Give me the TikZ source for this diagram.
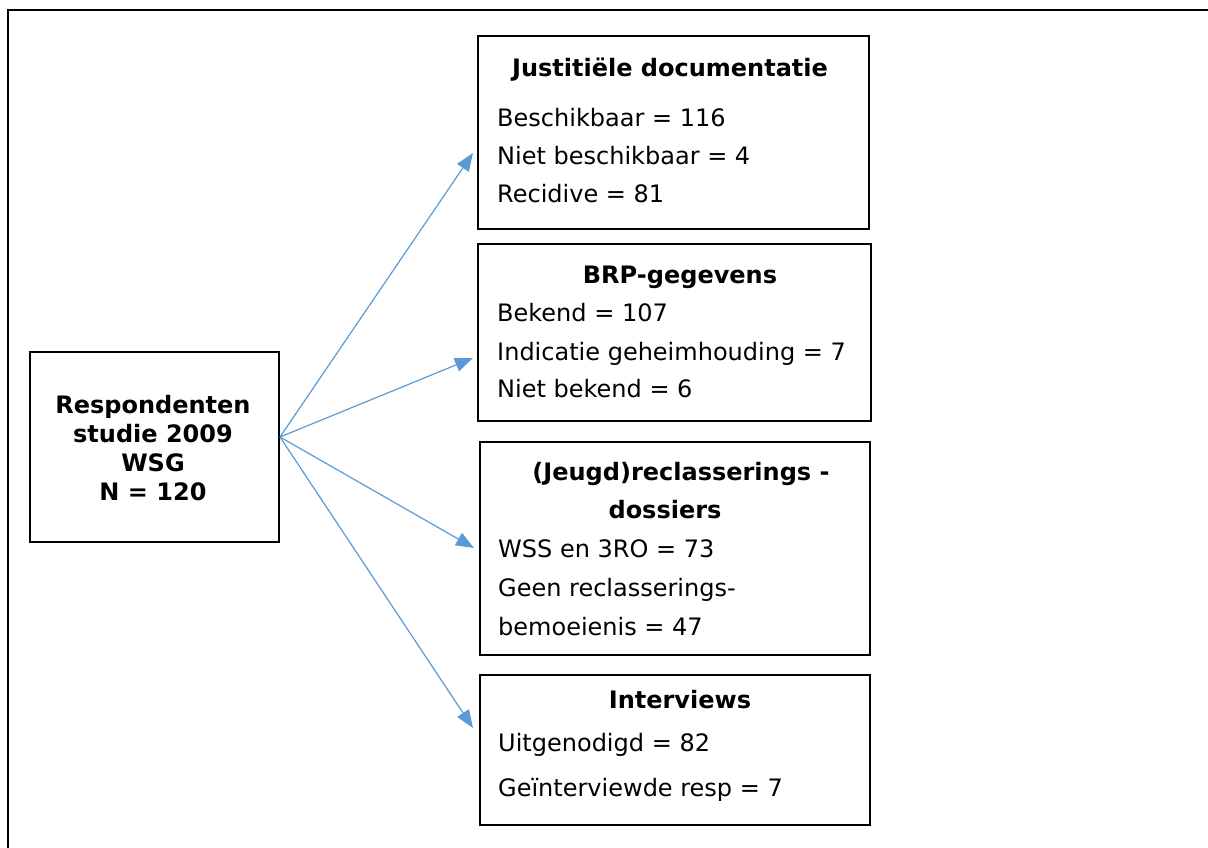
\documentclass[tikz,border=0pt]{standalone}
\usepackage{fontspec}
\setmainfont{DejaVu Sans}
\usetikzlibrary{arrows.meta}
\definecolor{arrowblue}{HTML}{5B9BD5}
\tikzset{
  boxnode/.style={draw=black, line width=2.5pt, rectangle, inner sep=0pt},
  txt/.style={anchor=base west, inner sep=0pt, font=\fontsize{24}{28}\selectfont},
  ttl/.style={anchor=base, inner sep=0pt, font=\fontsize{24}{28}\selectfont\bfseries},
  conn/.style={draw=arrowblue, line width=1.2pt, -{Triangle[length=18pt,width=14pt]}, arrowblue}
}
\begin{document}
\begin{tikzpicture}[x=1pt,y=-1pt]
\useasboundingbox (0,0) rectangle (1208,848);
% outer frame (only top and left visible)
\draw[line width=2.5pt] (8,848) -- (8,10) -- (1208,10);
% boxes
\node[boxnode, minimum width=249pt, minimum height=190pt] (resp) at (154.5,447) {};
\node[boxnode, minimum width=391pt, minimum height=193pt] (b1) at (673.5,132.5) {};
\node[boxnode, minimum width=393pt, minimum height=177pt] (b2) at (674.5,332.5) {};
\node[boxnode, minimum width=390pt, minimum height=213pt] (b3) at (675,548.5) {};
\node[boxnode, minimum width=390pt, minimum height=150pt] (b4) at (675,750) {};
% respondent text
\node[ttl] (r1) at (153,413.5) {Respondenten};
\node[ttl] (r2) at (153,442) {studie 2009};
\node[ttl] (r3) at (153,471) {WSG};
\node[ttl] (r4) at (153,500) {N = 120};
% box 1
\node[ttl] (h1) at (670,76.5) {Justitiële documentatie};
\node[txt] (a1) at (497,126.5) {Beschikbaar = 116};
\node[txt] (a2) at (497,164.5) {Niet beschikbaar = 4};
\node[txt] (a3) at (497,202.5) {Recidive = 81};
% box 2
\node[ttl] (h2) at (680,283.5) {BRP-gegevens};
\node[txt] (c1) at (497,321.5) {Bekend = 107};
\node[txt] (c2) at (497,360.5) {Indicatie geheimhouding = 7};
\node[txt] (c3) at (497,397.5) {Niet bekend = 6};
% box 3
\node[ttl] (h3a) at (681,480.5) {(Jeugd)reclasserings -};
\node[ttl] (h3b) at (665,518.5) {dossiers};
\node[txt] (d1) at (498,557.5) {WSS en 3RO = 73};
\node[txt] (d2) at (498,596.5) {Geen reclasserings-};
\node[txt] (d3) at (498,635.5) {bemoeienis = 47};
% box 4
\node[ttl] (h4) at (680,708.5) {Interviews};
\node[txt] (e1) at (498,751.5) {Uitgenodigd = 82};
\node[txt] (e2) at (498,796.5) {Geïnterviewde resp = 7};
% connectors
\coordinate (src) at (280,437);
\coordinate (t1) at (473,153);
\coordinate (t2) at (473,358);
\coordinate (t3) at (474,548);
\coordinate (t4) at (473,728);
\draw[conn] (src) -- (t1);
\draw[conn] (src) -- (t2);
\draw[conn] (src) -- (t3);
\draw[conn] (src) -- (t4);
\end{tikzpicture}
\end{document}
